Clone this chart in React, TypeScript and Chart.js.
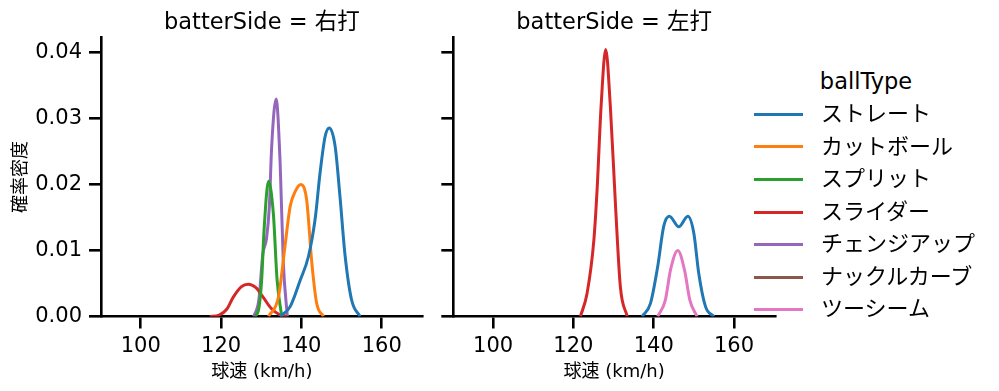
import React, { useEffect, useRef } from "react";
import { Chart, registerables } from "chart.js";

Chart.register(...registerables);

type Pt = [number, number];

// ---- data ----
const ballTypes = ["ストレート", "カットボール", "スプリット", "スライダー", "チェンジアップ", "ナックルカーブ", "ツーシーム"];
const colors = ["#1f77b4", "#ff7f0e", "#2ca02c", "#d62728", "#9467bd", "#8c564b", "#e377c2"];

const panelTitles = ["batterSide = 右打", "batterSide = 左打"];
const xTicks = [100, 120, 140, 160];
const yTicks = [0, 0.01, 0.02, 0.03, 0.04];
const xMin = 90.1;
const xMax = 170.2;
const yMax = 0.04234;

// 右打
const rStraight: Pt[] = [[134.7, 0], [137.2, 0.0015], [139.7, 0.0055], [141.75, 0.0091], [143.4, 0.0147], [144.65, 0.0218], [145.9, 0.0273], [146.95, 0.0286], [148.4, 0.0258], [149.6, 0.0182], [150.9, 0.0091], [152.5, 0.0025], [154.6, 0]];
const rCutter: Pt[] = [[131.8, 0], [134.3, 0.003], [135.9, 0.0106], [137.2, 0.0167], [138.5, 0.019], [139.85, 0.02], [141.3, 0.0177], [142.6, 0.0081], [143.8, 0.002], [145.5, 0]];
const rSplit: Pt[] = [[128.45, 0], [129.4, 0.0012], [130.1, 0.0055], [130.7, 0.0131], [131.8, 0.0205], [133.0, 0.0157], [133.95, 0.0055], [135.1, 0]];
const rSlider: Pt[] = [[117.2, 0], [119.5, 0.0002], [121.4, 0.0011], [123.0, 0.0029], [125.0, 0.0045], [126.8, 0.0049], [128.6, 0.0044], [130.5, 0.0029], [132.5, 0.0012], [134.5, 0.0003], [136.4, 0]];
const rChangeup: Pt[] = [[128.1, 0], [129.4, 0.0025], [130.4, 0.0095], [131.3, 0.0118], [132.0, 0.0165], [132.6, 0.0258], [133.7, 0.033], [134.7, 0.0233], [135.5, 0.0081], [136.5, 0]];

// 左打
const lStraight: Pt[] = [[137.1, 0], [139.2, 0.002], [141.0, 0.0076], [142.5, 0.0137], [143.9, 0.0152], [146.25, 0.0136], [148.5, 0.0152], [150.0, 0.0126], [151.2, 0.0066], [152.9, 0.0015], [155.0, 0]];
const lSlider: Pt[] = [[121.75, 0], [123.4, 0.0035], [125.1, 0.0116], [125.9, 0.0192], [126.9, 0.0319], [128.05, 0.0405], [129.2, 0.0319], [130.5, 0.0167], [131.7, 0.0045], [133.4, 0]];
const lTwoSeam: Pt[] = [[141.0, 0], [142.9, 0.0025], [144.2, 0.0071], [146.0, 0.01], [147.65, 0.0071], [149.0, 0.0025], [150.8, 0]];

const leftSeries: [number, Pt[]][] = [[0, rStraight], [1, rCutter], [2, rSplit], [3, rSlider], [4, rChangeup]];
const rightSeries: [number, Pt[]][] = [[0, lStraight], [3, lSlider], [6, lTwoSeam]];

const FONT = "'DejaVu Sans', 'Noto Sans CJK JP', sans-serif";
const H = 391;
const PLOT_TOP = 37.3;
const PLOT_BOTTOM = 316.5;

function makeConfig(series: [number, Pt[]][], yAxisWidth: number, padRight: number, showYLabels: boolean): any {
  return {
    type: "line",
    data: {
      datasets: series.map(([ci, pts]) => ({
        label: ballTypes[ci],
        data: pts.map(([x, y]) => ({ x, y })),
        borderColor: colors[ci],
        backgroundColor: colors[ci],
        borderWidth: 3,
        pointRadius: 0,
        fill: false,
        cubicInterpolationMode: "monotone",
      })),
    },
    options: {
      responsive: false,
      animation: false,
      devicePixelRatio: 1,
      events: [],
      layout: { padding: { left: 0, top: PLOT_TOP, right: padRight, bottom: 0 } },
      plugins: { legend: { display: false }, title: { display: false }, tooltip: { enabled: false } },
      scales: {
        x: {
          type: "linear",
          min: xMin,
          max: xMax,
          afterBuildTicks: (s: any) => { s.ticks = xTicks.map((v) => ({ value: v })); },
          afterFit: (s: any) => { s.height = H - PLOT_BOTTOM; },
          grid: { display: true, drawOnChartArea: false, drawTicks: true, tickLength: 12, lineWidth: 2.6, color: "#000" },
          border: { display: true, color: "#000", width: 2.6 },
          ticks: { autoSkip: false, maxRotation: 0, color: "#000", padding: 5, font: { family: FONT, size: 21 }, callback: (v: any) => String(v) },
        },
        y: {
          type: "linear",
          min: 0,
          max: yMax,
          afterBuildTicks: (s: any) => { s.ticks = yTicks.map((v) => ({ value: v })); },
          afterFit: (s: any) => { s.width = yAxisWidth; },
          grid: { display: true, drawOnChartArea: false, drawTicks: true, tickLength: 12, lineWidth: 2.6, color: "#000" },
          border: { display: true, color: "#000", width: 2.6 },
          ticks: { autoSkip: false, color: "#000", padding: 7, font: { family: FONT, size: 21 }, callback: (v: any) => (showYLabels ? Number(v).toFixed(2) : "") },
        },
      },
    },
  };
}

function Panel(props: { left: number; width: number; series: [number, Pt[]][]; yAxisWidth: number; padRight: number; showY: boolean }) {
  const ref = useRef<HTMLCanvasElement>(null);
  useEffect(() => {
    if (!ref.current) return;
    const chart = new Chart(ref.current, makeConfig(props.series, props.yAxisWidth, props.padRight, props.showY));
    return () => chart.destroy();
  }, []);
  return (
    <canvas
      ref={ref}
      width={props.width}
      height={H}
      style={{ position: "absolute", left: props.left, top: 0, width: props.width, height: H, display: "block" }}
    />
  );
}

const textBase: React.CSSProperties = { position: "absolute", whiteSpace: "nowrap", fontFamily: FONT, color: "#000", lineHeight: 1 };

export default function App() {
  const leftCenter = (101 + 422.7) / 2;
  const rightCenter = (453.3 + 775) / 2;
  const legendRows = [114, 146.7, 179, 212.3, 244, 277.3, 309.3];
  return (
    <div style={{ position: "absolute", left: 0, top: 0, width: 999, height: H, background: "#fff", overflow: "hidden" }}>
      <Panel left={0} width={440} series={leftSeries} yAxisWidth={101} padRight={440 - 422.7} showY={true} />
      <Panel left={440} width={360} series={rightSeries} yAxisWidth={453.3 - 440} padRight={800 - 775} showY={false} />

      <div style={{ ...textBase, left: leftCenter, top: 21, fontSize: 22.5, transform: "translate(-50%, -50%)" }}>{panelTitles[0]}</div>
      <div style={{ ...textBase, left: rightCenter, top: 21, fontSize: 22.5, transform: "translate(-50%, -50%)" }}>{panelTitles[1]}</div>

      <div style={{ ...textBase, left: 20, top: 177, fontSize: 18, transform: "translate(-50%, -50%) rotate(-90deg)" }}>確率密度</div>
      <div style={{ ...textBase, left: leftCenter, top: 371, fontSize: 18, transform: "translate(-50%, -50%)" }}>球速 (km/h)</div>
      <div style={{ ...textBase, left: rightCenter, top: 371, fontSize: 18, transform: "translate(-50%, -50%)" }}>球速 (km/h)</div>

      <div style={{ ...textBase, left: 866, top: 81, fontSize: 22.5, transform: "translate(-50%, -50%)" }}>ballType</div>
      {ballTypes.map((name, i) => (
        <React.Fragment key={name}>
          <div style={{ position: "absolute", left: 754, top: legendRows[i] - 1.5, width: 49, height: 3, background: colors[i] }} />
          <div style={{ ...textBase, left: 821, top: legendRows[i], fontSize: 22, transform: "translateY(-50%)" }}>{name}</div>
        </React.Fragment>
      ))}
    </div>
  );
}
